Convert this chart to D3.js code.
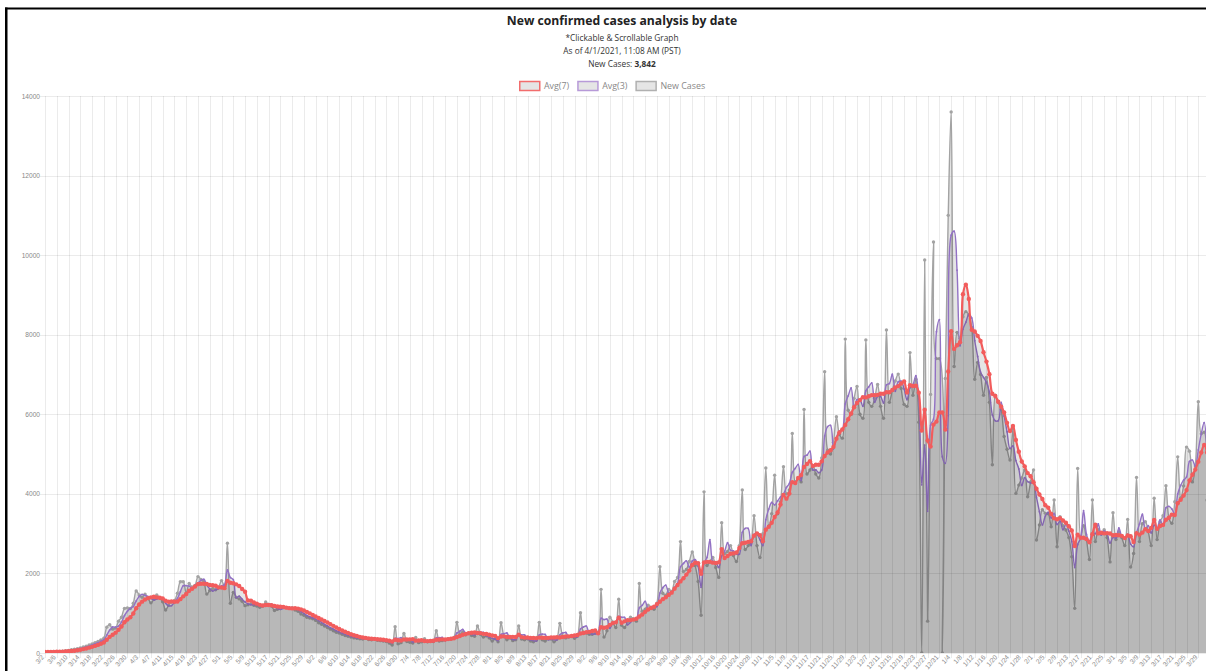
<!DOCTYPE html>
<html lang="en">
<head>
<meta charset="utf-8">
<title>New confirmed cases analysis by date</title>
<style>
  body { margin: 0; background: #fff; }
  svg { display: block; font-family: "Open Sans", sans-serif; }
  .grid line { stroke: #000; stroke-opacity: 0.08; shape-rendering: crispEdges; }
  .grid path { display: none; }
  .grid text { fill: #888; font-size: 6.6px; }
</style>
<script src="https://cdnjs.cloudflare.com/ajax/libs/d3/7.8.5/d3.min.js"></script>
</head>
<body>
<svg width="1206" height="671"></svg>
<script>
// x tick labels, one every 4 days starting 3/2/2020
var tickLabels = [
  "3/2","3/6","3/10","3/14","3/18","3/22","3/26","3/30",
  "4/3","4/7","4/11","4/15","4/19","4/23","4/27",
  "5/1","5/5","5/9","5/13","5/17","5/21","5/25","5/29",
  "6/2","6/6","6/10","6/14","6/18","6/22","6/26","6/30",
  "7/4","7/8","7/12","7/16","7/20","7/24","7/28",
  "8/1","8/5","8/9","8/13","8/17","8/21","8/25","8/29",
  "9/2","9/6","9/10","9/14","9/18","9/22","9/26","9/30",
  "10/4","10/8","10/12","10/16","10/20","10/24","10/28",
  "11/1","11/5","11/9","11/13","11/17","11/21","11/25","11/29",
  "12/3","12/7","12/11","12/15","12/19","12/23","12/27","12/31",
  "1/4","1/8","1/12","1/16","1/20","1/24","1/28",
  "2/1","2/5","2/9","2/13","2/17","2/21","2/25",
  "3/1","3/5","3/9","3/13","3/17","3/21","3/25","3/29"
];
var yTicks = [0, 2000, 4000, 6000, 8000, 10000, 12000, 14000];

// daily new cases, 3/2/2020 .. 4/1/2021
var newCases = [
  20,25,30,40,35,30,45,55,65,
  80,95,110,130,150,170,200,230,260,290,
  330,370,650,710,600,630,800,900,1120,1130,
  1120,1250,1560,1460,1400,1480,1380,1260,1350,1460,
  1380,1290,1080,1200,1290,1320,1500,1790,1790,1500,
  1750,1660,1700,1920,1850,1790,1480,1570,1620,1590,
  1650,1820,1680,2760,1250,1520,1400,1360,1300,1190,
  1210,1240,1200,1180,1150,1180,1280,1220,1180,1070,
  1100,1120,1150,1140,1130,1140,1080,1050,980,950,
  900,880,860,820,760,720,680,640,600,560,
  520,500,470,440,420,400,380,370,360,350,
  370,340,330,360,320,310,300,290,250,200,
  660,230,260,490,290,270,250,390,260,280,
  360,280,300,290,560,300,310,330,360,350,
  390,770,480,530,460,500,440,420,680,470,
  400,430,380,300,360,280,760,420,330,380,
  310,330,680,350,330,360,300,280,320,770,
  330,300,370,360,280,350,745,420,380,400,
  420,370,430,1010,520,500,470,470,500,
  520,1600,400,560,900,780,640,1350,700,640,
  780,900,860,800,1750,1050,1100,1200,1150,1100,
  1250,2170,1500,1450,1600,1550,1800,1900,2800,2050,
  2100,2300,2540,2200,1800,950,4050,2200,2300,2400,
  2150,1900,3275,2500,2550,2700,2450,2300,2700,4100,
  2600,2700,2800,3450,2700,2400,3000,4650,3200,3500,
  4470,3500,3800,4680,4000,4100,5520,4300,4400,4300,
  6120,4500,4600,4700,4500,4400,4900,7070,5100,5000,
  5300,5940,5500,5400,7890,6100,6000,6400,6700,6000,
  5900,7870,6300,6200,6400,6750,6200,5900,8120,6300,
  6600,6835,7010,6650,6250,6200,7550,6480,6880,5800,
  0,9880,800,6500,10330,7400,7400,0,6900,11000,
  13600,7200,8060,7910,8450,8580,8500,8180,6880,7300,
  7000,6480,6925,6300,4730,6480,6300,6120,5444,5120,
  4850,5645,4012,4220,4400,4600,3928,4300,4600,2840,
  3217,3600,3510,3500,3175,3845,2672,3425,3200,3090,
  2900,2420,1122,4640,2900,3200,2850,2350,3845,2800,
  3100,3000,3100,2900,2290,3525,2850,3050,2900,2700,
  3357,2160,2500,4414,2800,3250,3300,3050,2700,3890,
  2850,3300,3450,4205,3400,3260,3800,4930,3900,4200,
  5175,5070,4300,4700,6315,5510,5550,3842
];

var avg3 = [
  25,25,25,32,35,35,37,43,55,
  67,80,95,112,130,150,173,200,230,260,
  293,330,450,577,653,647,677,777,940,1050,
  1123,1167,1310,1423,1473,1447,1420,1373,1330,1357,
  1397,1377,1250,1190,1190,1270,1370,1537,1693,1693,
  1680,1637,1703,1760,1823,1853,1707,1613,1557,1593,
  1620,1687,1717,2087,1897,1843,1390,1427,1353,1283,
  1233,1213,1217,1207,1177,1170,1203,1227,1227,1157,
  1117,1097,1123,1137,1140,1137,1117,1090,1037,993,
  943,910,880,853,813,767,720,680,640,600,
  560,527,497,470,443,420,400,383,370,360,
  360,353,347,343,337,330,310,300,280,247,
  370,363,383,327,347,350,270,303,300,310,
  300,307,313,290,383,383,390,313,333,347,
  367,503,547,593,490,497,467,453,513,523,
  517,433,403,370,347,313,467,487,503,377,
  340,340,440,453,453,347,330,313,300,457,
  473,467,333,343,337,330,458,505,515,400,
  400,397,407,603,653,677,497,473,483,
  497,873,840,853,620,747,773,923,897,897,
  707,773,847,853,1137,1200,1300,1117,1150,1150,
  1167,1507,1640,1707,1517,1533,1650,1750,2167,2250,
  2317,2150,2313,2347,2180,1650,2267,2400,2850,2300,
  2283,2150,2442,2558,2775,2583,2567,2483,2483,3033,
  3133,3133,2700,2983,2983,2850,2700,3350,3617,3783,
  3723,3823,3923,3993,4160,4260,4540,4640,4740,4333,
  4940,4973,5073,4600,4600,4533,4600,5457,5690,5723,
  5133,5413,5580,5613,6263,6463,6663,6167,6367,6367,
  6200,6590,6690,6790,6300,6450,6450,6283,6740,6773,
  7007,6578,6815,6832,6637,6367,6667,6743,6970,6387,
  4227,5227,3560,5727,5877,8077,8377,4933,4767,5967,
  10500,10600,9620,7723,8140,8313,8510,8420,7853,7453,
  7060,6927,6802,6568,5985,5837,5837,6300,5955,5561,
  5138,5205,4836,4626,4211,4407,4309,4276,4276,3913,
  3552,3219,3442,3537,3395,3507,3231,3314,3099,3238,
  3063,2803,2147,2727,2887,3580,2983,2800,3015,2998,
  3248,2967,3067,3000,2763,2905,2888,3142,2933,2883,
  2986,2739,2672,3025,3238,3488,3117,3200,3017,3213,
  3147,3347,3200,3652,3685,3622,3487,3997,4210,4343,
  4425,4815,4848,4690,5105,5508,5792,4967
];

var avg7 = [
  25,25,26,29,30,30,32,37,43,
  50,58,69,83,98,114,134,155,179,204,
  233,264,333,406,459,511,584,666,773,841,
  900,993,1126,1220,1291,1343,1379,1399,1413,1399,
  1387,1371,1314,1289,1293,1289,1294,1353,1424,1484,
  1563,1616,1670,1730,1739,1739,1736,1710,1704,1689,
  1650,1646,1630,1813,1767,1753,1726,1684,1610,1540,
  1319,1317,1271,1240,1210,1193,1206,1207,1199,1180,
  1169,1164,1160,1140,1127,1121,1123,1116,1096,1067,
  1033,997,957,920,879,841,803,766,726,683,
  640,603,567,533,501,473,447,426,406,389,
  379,367,357,354,347,340,333,321,309,290,
  333,320,313,340,340,343,350,311,316,319,
  300,299,303,309,333,339,343,339,350,357,
  371,401,427,459,477,497,510,514,501,500,
  481,477,460,440,431,374,416,419,404,404,
  406,401,459,400,387,391,380,376,374,387,
  384,380,381,390,390,394,391,404,415,419,
  428,441,452,490,504,521,531,554,564,
  494,649,634,647,707,751,771,890,761,796,
  827,827,839,861,919,969,1034,1094,1130,1164,
  1229,1289,1353,1403,1460,1517,1617,1710,1800,1879,
  1971,2071,2213,2270,2256,1991,2277,2291,2291,2271,
  2264,2279,2611,2389,2439,2496,2504,2525,2639,2757,
  2771,2793,2807,2950,3007,2964,2807,3100,3171,3271,
  3417,3531,3731,3971,3879,4007,4296,4271,4400,4471,
  4677,4749,4820,4703,4731,4731,4817,4953,5039,5096,
  5181,5387,5544,5616,5733,5876,6019,6176,6284,6356,
  6427,6424,6453,6481,6481,6489,6517,6517,6553,6553,
  6610,6672,6709,6774,6824,6549,6728,6711,6717,6544,
  5594,6113,5341,5191,5741,5816,6044,6044,5619,7076,
  8090,7643,7737,7810,9017,9257,8900,8126,8080,7971,
  7841,7560,7324,7009,6516,6459,6316,6191,6043,5785,
  5578,5708,5356,5059,4813,4692,4522,4444,4294,4127,
  3984,3869,3714,3652,3492,3384,3360,3390,3332,3272,
  3187,3079,2690,2971,2896,2896,2862,2783,2987,3226,
  3006,3021,3006,3014,3005,2959,2966,2959,2945,2888,
  2953,2935,2788,3012,2976,3026,3112,3068,3145,3343,
  3120,3191,3220,3349,3399,3479,3466,3764,3849,3956,
  4095,4334,4482,4611,4809,5039,5231,5041
];

var svg = d3.select("svg"),
    width = +svg.attr("width"),
    height = +svg.attr("height");

var plotLeft = 45, plotTop = 96, plotBottom = 653;

var x = d3.scaleLinear().domain([0, 392]).range([plotLeft, 1198.3]);
var y = d3.scaleLinear().domain([0, 14000]).range([plotBottom, plotTop]);

// grid + y labels
var gy = svg.append("g")
    .attr("class", "grid")
    .attr("transform", "translate(" + plotLeft + ",0)")
    .call(d3.axisLeft(y).tickValues(yTicks).tickFormat(d3.format("d"))
      .tickSize(-(width - plotLeft)).tickPadding(5));
gy.selectAll(".tick line").attr("x1", -5);

var tickDays = d3.range(0, tickLabels.length * 4, 4);
var gx = svg.append("g")
    .attr("class", "grid")
    .attr("transform", "translate(0," + plotBottom + ")")
    .call(d3.axisBottom(x).tickValues(tickDays)
      .tickFormat(function(d, i) { return tickLabels[i]; })
      .tickSize(-(plotBottom - plotTop)));
gx.selectAll(".tick line").attr("y1", 5);
gx.selectAll(".tick text")
    .attr("x", -4).attr("y", 0).attr("dy", "0.35em")
    .attr("transform", "rotate(-48)")
    .style("text-anchor", "end");

svg.append("clipPath").attr("id", "plot")
  .append("rect").attr("x", plotLeft).attr("y", plotTop - 4)
    .attr("width", width - plotLeft).attr("height", plotBottom - plotTop + 4);

var curve = d3.curveCatmullRom.alpha(0.5);
var line = d3.line()
    .x(function(d, i) { return x(i); })
    .y(function(d) { return y(d); })
    .curve(curve);
var area = d3.area()
    .x(function(d, i) { return x(i); })
    .y0(y(0))
    .y1(function(d) { return y(d); })
    .curve(curve);

var series = [
  { name: "Avg(7)", values: avg7, color: "#f25c5c", legend: "#f26d6d", width: 2.2, r: 2.2 },
  { name: "Avg(3)", values: avg3, color: "#9271c4", legend: "#b79ad8", width: 1.4, r: 0.9 },
  { name: "New Cases", values: newCases, color: "#a3a3a3", legend: "#b0b0b0", width: 1.4, r: 1.7 }
];

var plot = svg.append("g").attr("clip-path", "url(#plot)");

series.slice().reverse().forEach(function(s) {
  var g = plot.append("g");
  g.append("path")
      .attr("d", area(s.values))
      .attr("fill", "rgba(0,0,0,0.1)");
  g.append("path")
      .attr("d", line(s.values))
      .attr("fill", "none")
      .attr("stroke", s.color)
      .attr("stroke-width", s.width)
      .attr("stroke-linejoin", "round");
  g.selectAll("circle")
    .data(s.values)
    .enter().append("circle")
      .attr("cx", function(d, i) { return x(i); })
      .attr("cy", function(d) { return y(d); })
      .attr("r", s.r)
      .attr("fill", s.color);
});

// titles
svg.append("text")
    .attr("x", 622).attr("y", 25)
    .attr("text-anchor", "middle")
    .attr("font-size", "12.2px").attr("font-weight", "bold").attr("fill", "#222")
    .text("New confirmed cases analysis by date");

var sub = svg.append("g").attr("font-size", "8.3px").attr("fill", "#333").attr("text-anchor", "middle");
sub.append("text").attr("x", 622).attr("y", 41).text("*Clickable & Scrollable Graph");
sub.append("text").attr("x", 622).attr("y", 54).text("As of 4/1/2021, 11:08 AM (PST)");
var nc = sub.append("text").attr("x", 622).attr("y", 67);
nc.append("tspan").text("New Cases: ");
nc.append("tspan").attr("font-weight", "bold").text("3,842");

// legend
var lg = svg.append("g").attr("font-size", "8.9px").attr("fill", "#888");
var lx = 519;
series.forEach(function(s) {
  lg.append("rect")
      .attr("x", lx + 0.75).attr("y", 81.5)
      .attr("width", 20).attr("height", 9)
      .attr("fill", "rgba(0,0,0,0.1)")
      .attr("stroke", s.legend).attr("stroke-width", 1.5);
  var t = lg.append("text")
      .attr("x", lx + 25).attr("y", 89)
      .text(s.name);
  lx += 25 + t.node().getComputedTextLength() + 8;
});

// screenshot frame
svg.append("rect").attr("x", 5).attr("y", 7.5).attr("width", width - 5).attr("height", 2).attr("fill", "#000");
svg.append("rect").attr("x", 5).attr("y", 7.5).attr("width", 2.5).attr("height", height).attr("fill", "#000");
</script>
</body>
</html>
